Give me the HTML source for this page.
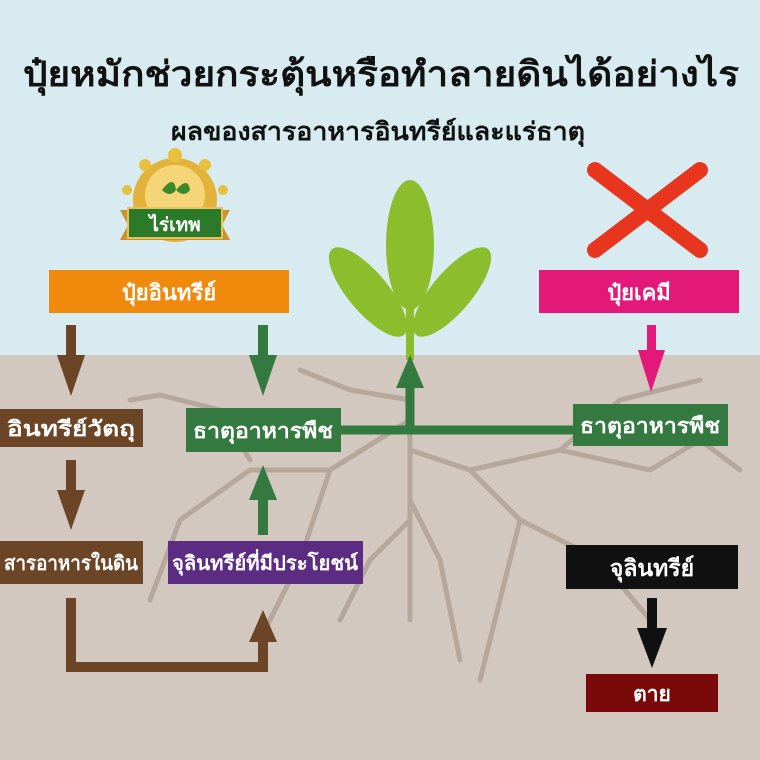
<!DOCTYPE html>
<html><head><meta charset="utf-8"><style>
body{margin:0;width:760px;height:760px;overflow:hidden}
svg{display:block}
text{font-family:"Liberation Sans","DejaVu Sans",sans-serif;font-weight:bold}
</style></head><body>
<svg width="760" height="760" viewBox="0 0 760 760">
<rect width="760" height="355" fill="#d7ebf1"/>
<rect y="355" width="760" height="405" fill="#d3c8bf"/>
<g stroke="#b5a79c" stroke-width="5" fill="none" stroke-linecap="round">
<path d="M410 355 L410 620 M410 420 L330 470 L250 470 L180 520 M330 470 L300 560 L260 640 M410 450 L470 470 L560 450 L650 470 L700 440 M470 470 L520 520 L600 560 M560 450 L620 400 L700 380 M410 500 L440 560 L460 660 M410 400 L350 390 L300 370 M410 520 L370 560 L340 620 M520 520 L500 600 L480 680 M180 520 L150 600 M130 400 L160 395 L220 410 L250 460 M600 560 L650 620 M700 440 L740 470"/>
</g>
<text x="381" y="86" font-size="35" text-anchor="middle" fill="#111" textLength="716" lengthAdjust="spacingAndGlyphs">ปุ๋ยหมักช่วยกระตุ้นหรือทำลายดินได้อย่างไร</text>
<text x="378" y="140" font-size="25" text-anchor="middle" fill="#111" textLength="414" lengthAdjust="spacingAndGlyphs">ผลของสารอาหารอินทรีย์และแร่ธาตุ</text>
<circle cx="175" cy="200" r="42" fill="#e2b23a"/>
<circle cx="175" cy="195" r="30" fill="#f4d679"/>
<path d="M162 190 q12 -16 14 0 q-6 8 -14 0z M176 190 q12 -14 14 0 q-6 8 -14 0z" fill="#3a8a2a"/>
<path d="M120 210 L230 210 L222 225 L230 240 L120 240 L128 225 Z" fill="#c9922a"/>
<rect x="128" y="208" width="94" height="30" fill="#2a7a2a" stroke="#e9c35a" stroke-width="2"/>
<text x="175" y="231" font-size="19" text-anchor="middle" fill="#fff">ไร่เทพ</text>
<g fill="#e8c040"><circle cx="175" cy="155" r="7"/><circle cx="145" cy="165" r="6"/><circle cx="205" cy="165" r="6"/><circle cx="127" cy="190" r="5"/><circle cx="223" cy="190" r="5"/></g>
<path d="M595 170 L700 250 M700 170 L595 250" stroke="#e8361e" stroke-width="16" stroke-linecap="round"/>
<rect x="406" y="300" width="8" height="60" fill="#8cbd2c"/>
<ellipse cx="410" cy="245" rx="24" ry="65" fill="#8cbd2c"/>
<ellipse cx="368" cy="292" rx="20" ry="56" fill="#8cbd2c" transform="rotate(-40 368 292)"/>
<ellipse cx="452" cy="292" rx="20" ry="56" fill="#8cbd2c" transform="rotate(40 452 292)"/>
<path d="M341 430 H573 M410 430 V385" stroke="#347a40" stroke-width="9" fill="none"/>
<path d="M396 388 L410 355 L424 388 Z" fill="#347a40"/>
<rect x="49" y="270" width="240" height="43" fill="#f08a0c"/>
<text x="169" y="300" font-size="22" text-anchor="middle" fill="#fff">ปุ๋ยอินทรีย์</text>
<rect x="539" y="270" width="200" height="43" fill="#e3197a"/>
<text x="639" y="300" font-size="22" text-anchor="middle" fill="#fff">ปุ๋ยเคมี</text>
<rect x="0" y="409" width="143" height="38" fill="#6b4526"/>
<text x="71" y="436" font-size="21" text-anchor="middle" fill="#fff" textLength="128" lengthAdjust="spacingAndGlyphs">อินทรีย์วัตถุ</text>
<rect x="186" y="408" width="155" height="44" fill="#347a40"/>
<text x="263" y="438" font-size="21" text-anchor="middle" fill="#fff" textLength="140" lengthAdjust="spacingAndGlyphs">ธาตุอาหารพืช</text>
<rect x="0" y="541" width="143" height="43" fill="#6b4526"/>
<text x="71" y="570" font-size="20" text-anchor="middle" fill="#fff" textLength="134" lengthAdjust="spacingAndGlyphs">สารอาหารในดิน</text>
<rect x="168" y="541" width="195" height="43" fill="#5b2c82"/>
<text x="265" y="570" font-size="20" text-anchor="middle" fill="#fff" textLength="186" lengthAdjust="spacingAndGlyphs">จุลินทรีย์ที่มีประโยชน์</text>
<rect x="573" y="404" width="155" height="42" fill="#347a40"/>
<text x="650" y="433" font-size="21" text-anchor="middle" fill="#fff" textLength="140" lengthAdjust="spacingAndGlyphs">ธาตุอาหารพืช</text>
<rect x="566" y="545" width="172" height="44" fill="#111"/>
<text x="652" y="576" font-size="23" text-anchor="middle" fill="#fff">จุลินทรีย์</text>
<rect x="586" y="674" width="132" height="38" fill="#7a0a0a"/>
<text x="652" y="701" font-size="21" text-anchor="middle" fill="#fff">ตาย</text>
<g fill="#6b4526">
<rect x="66" y="325" width="10" height="35"/><path d="M57 355 L85 355 L71 396 Z"/>
<rect x="66" y="460" width="10" height="35"/><path d="M57 490 L85 490 L71 530 Z"/>
<path d="M66 598 H76 V662 H258 V640 H268 V672 H66 Z"/><path d="M249 642 L263 610 L277 642 Z"/>
</g>
<g fill="#347a40">
<rect x="258" y="325" width="10" height="35"/><path d="M249 355 L277 355 L263 396 Z"/>
<rect x="258" y="495" width="10" height="40"/><path d="M249 500 L263 465 L277 500 Z"/>
</g>
<g fill="#e3197a"><rect x="647" y="325" width="9" height="30"/><path d="M638 350 L665 350 L651 392 Z"/></g>
<g fill="#111"><rect x="647" y="598" width="10" height="35"/><path d="M637 628 L667 628 L652 668 Z"/></g>
</svg>
</body></html>
